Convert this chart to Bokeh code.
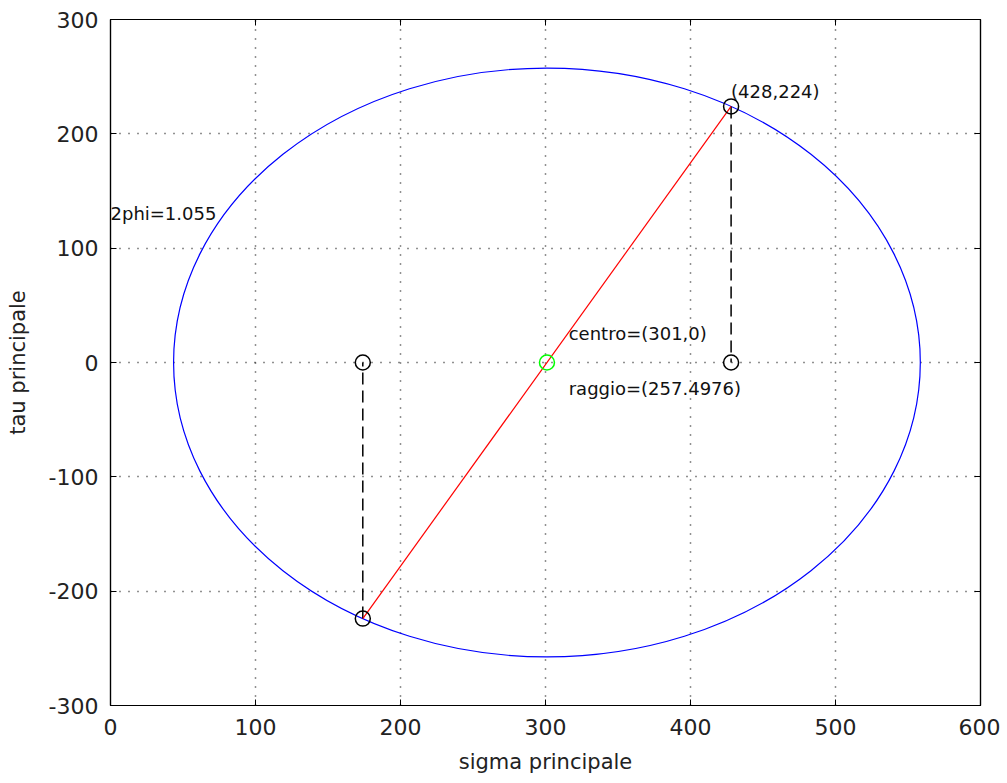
from bokeh.plotting import figure
from bokeh.models import SingleIntervalTicker, LinearAxis, Range1d, CustomJSTickFormatter
from bokeh.embed import file_html
from bokeh.resources import INLINE
from bokeh.core.properties import value

# data
center_x = [301]
center_y = [0]
radius = 257.4976
end_x = [174, 428]
end_y = [-224, 224]
foot_x = [174, 428]
foot_y = [0, 0]
ann_x = [428, 0, 316, 316]
ann_y = [237, 130, 25, -23]
ann_text = ["(428,224)", "2phi=1.055", "centro=(301,0)", "raggio=(257.4976)"]
neg_ticks = {-300: "-300", -200: "-200", -100: "-100"}

FONT = "DejaVu Sans"

p = figure(width=1000, height=780, output_backend="svg", toolbar_location=None,
           x_range=Range1d(0, 600), y_range=Range1d(-300, 300),
           min_border_left=110, min_border_right=20, min_border_top=19, min_border_bottom=75)
p.outline_line_color = "black"
p.outline_line_width = 1.2

tick_x = SingleIntervalTicker(interval=100, num_minor_ticks=0)
tick_y = SingleIntervalTicker(interval=100, num_minor_ticks=0)
p.xaxis.ticker = tick_x
p.yaxis.ticker = tick_y
p.xgrid.ticker = tick_x
p.ygrid.ticker = tick_y

for ax in (p.xaxis[0], p.yaxis[0]):
    ax.major_tick_in = 6
    ax.major_tick_out = 0
    ax.minor_tick_in = 0
    ax.minor_tick_out = 0
    ax.axis_line_color = "black"
    ax.axis_line_width = 1.2
    ax.major_tick_line_color = "black"
    ax.major_label_text_font = FONT
    ax.major_label_text_font_size = "22px"
    ax.major_label_text_color = "#222222"
    ax.axis_label_text_font = FONT
    ax.axis_label_text_font_size = "21px"
    ax.axis_label_text_font_style = "normal"
    ax.axis_label_text_color = "#222222"

p.yaxis.major_label_overrides = neg_ticks
p.xaxis.axis_label = "sigma principale"
p.yaxis.axis_label = "tau principale"
p.xaxis.major_label_standoff = 13
p.yaxis.major_label_standoff = 12
p.xaxis.axis_label_standoff = 12
p.yaxis.axis_label_standoff = 16

blank = CustomJSTickFormatter(code="return ''")
for loc, tk in (("right", tick_y), ("above", tick_x)):
    a = LinearAxis(ticker=tk, formatter=blank)
    a.major_tick_in = 6
    a.major_tick_out = 0
    a.minor_tick_in = 0
    a.minor_tick_out = 0
    a.major_label_standoff = 0
    a.axis_line_color = "black"
    a.axis_line_width = 1.2
    p.add_layout(a, loc)

for g in (p.xgrid[0], p.ygrid[0]):
    g.grid_line_color = "#222222"
    g.grid_line_dash = "1 8"
    g.grid_line_width = 1.5
    g.grid_line_alpha = 1.0

# circle (Mohr)
p.ellipse(x=center_x, y=center_y, width=[2 * radius], height=[2 * radius],
          fill_color=None, line_color="#0000ff", line_width=1.2)

# dashed verticals
p.segment(x0=end_x, y0=end_y, x1=foot_x, y1=foot_y, line_color="black",
          line_dash="12 6", line_width=1.5)

# red diameter
p.line(x=end_x, y=end_y, line_color="#ff0000", line_width=1.2)

# markers
p.scatter(x=end_x, y=end_y, marker="circle", size=15, fill_color=None,
          line_color="black", line_width=1.5)
p.scatter(x=foot_x, y=foot_y, marker="circle", size=15, fill_color=None,
          line_color="black", line_width=1.5)
p.scatter(x=center_x, y=center_y, marker="circle", size=15, fill_color=None,
          line_color="#00ff00", line_width=1.5)

p.text(x=ann_x, y=ann_y, text=ann_text, text_font=value(FONT),
       text_font_size="18px", text_color="#111111", text_baseline="middle",
       text_align="left")

open("out.html", "w").write(file_html(p, INLINE))
